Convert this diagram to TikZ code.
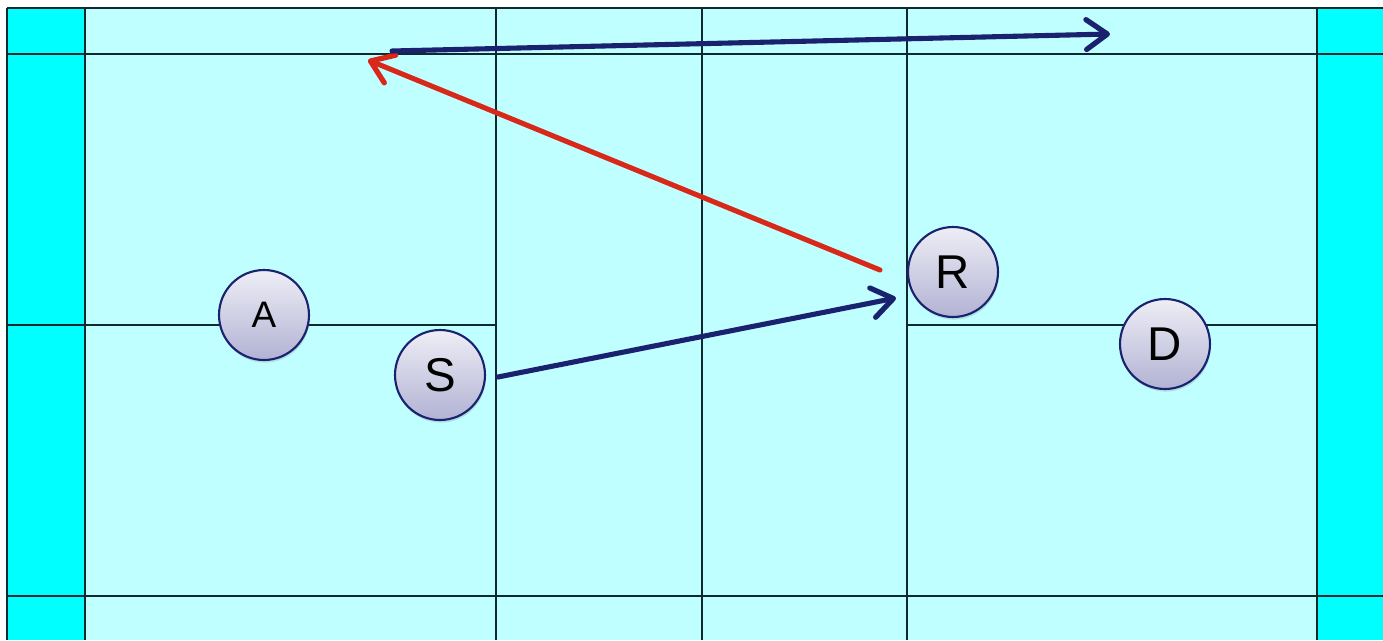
\documentclass[tikz,border=0pt]{standalone}
\usepackage{fontspec}
\setmainfont{Liberation Sans}
\usetikzlibrary{arrows.meta,shadows}
\definecolor{strip}{HTML}{00FFFF}
\definecolor{court}{HTML}{BFFFFF}
\definecolor{courtline}{HTML}{0E2A2E}
\definecolor{navy}{HTML}{1A2270}
\definecolor{redarrow}{HTML}{D8281A}
\definecolor{ptop}{HTML}{EEEEF6}
\definecolor{pbot}{HTML}{B2B2D4}
\tikzset{
  cline/.style={draw=courtline, line width=1.1pt},
  player/.style={circle, draw=navy, line width=1.2pt, minimum size=1.8cm, inner sep=0pt,
    top color=ptop, bottom color=pbot,
    drop shadow={opacity=0.25, shadow xshift=0.5pt, shadow yshift=-1.5pt}},
  bigfont/.style={font=\fontsize{27}{27}\selectfont},
  smallfont/.style={font=\fontsize{21}{21}\selectfont},
  shot/.style={line width=2.9pt, line cap=round, line join=round,
    -{Straight Barb[length=12pt, width=17pt, line width=3pt, round]}},
}
\begin{document}
\begin{tikzpicture}[x=0.02cm, y=-0.02cm]
\useasboundingbox (0,0) rectangle (1383,640);
% fills
\fill[white] (0,0) rectangle (1383,640);
\fill[strip] (7,8) rectangle (85,640);
\fill[strip] (1317,8) rectangle (1383,640);
\fill[court] (85,8) rectangle (1317,640);
% court lines
\draw[cline] (7,8) -- (1383,8);
\draw[cline] (7,8) -- (7,640);
\foreach \x in {85,496,702,907,1317} \draw[cline] (\x,8) -- (\x,640);
\draw[cline] (7,54) -- (1383,54);
\draw[cline] (7,596) -- (1383,596);
\draw[cline] (7,325) -- (496,325);
\draw[cline] (907,325) -- (1317,325);
% players
\node[player, smallfont] (A) at (264,315) {A};
\node[player, bigfont] (S) at (440,375) {S};
\node[player, bigfont] (R) at (953,272) {R};
\node[player, bigfont] (D) at (1165,344) {D};
% shot points
\coordinate (s1) at (498,377);
\coordinate (r1) at (896,298);
\coordinate (r2) at (880,270);
\coordinate (t1) at (368,60);
\coordinate (t2) at (392,51);
\coordinate (t3) at (1110,34);
% shots
\draw[shot, navy] (s1) -- (r1);
\draw[shot, redarrow] (r2) -- (t1);
\draw[shot, navy] (t2) -- (t3);
\end{tikzpicture}
\end{document}
